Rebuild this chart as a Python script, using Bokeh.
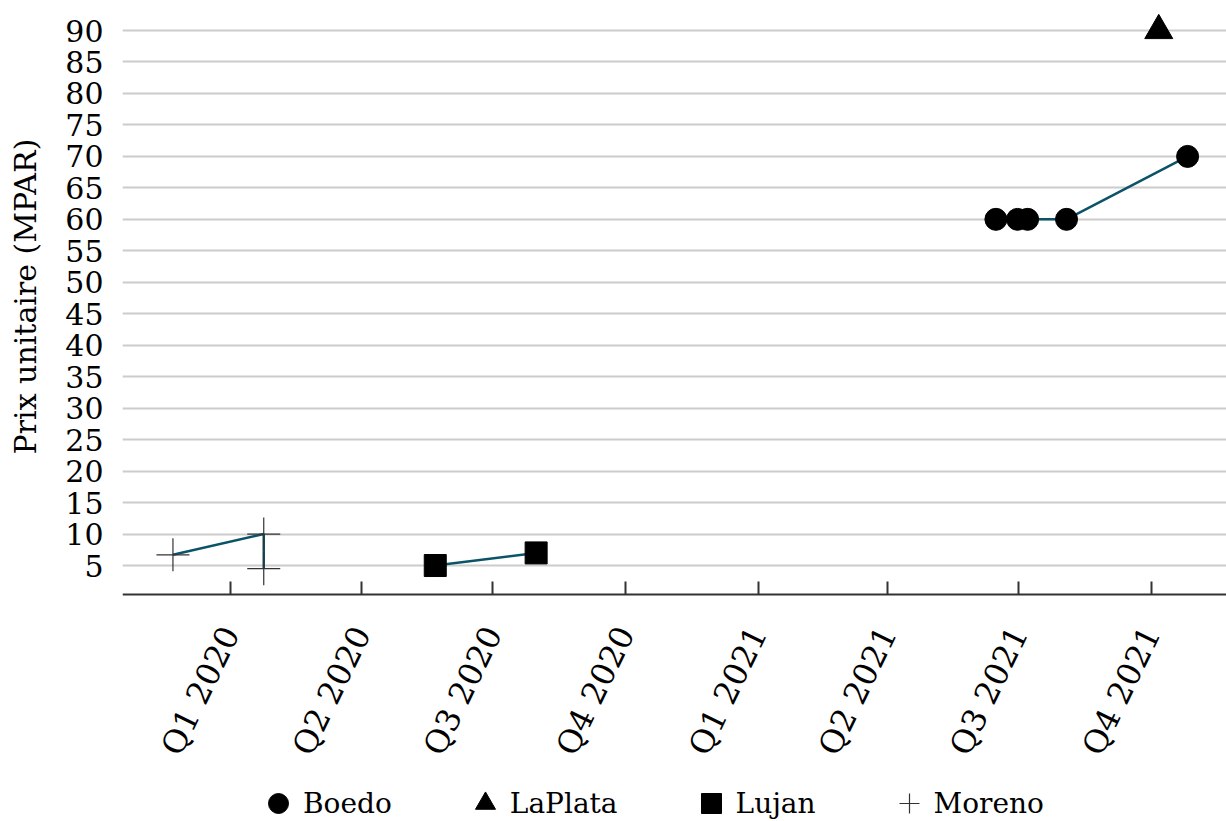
import math
from datetime import datetime, timezone
from bokeh.plotting import figure
from bokeh.models import (ColumnDataSource, FixedTicker, CustomJSTickFormatter,
                          Legend, LegendItem, Range1d)
from bokeh.embed import file_html
from bokeh.resources import INLINE

# ---- data ----
boedo_dates = ["2021-06-15", "2021-06-30", "2021-07-07", "2021-08-03", "2021-10-26"]
boedo_values = [60, 60, 60, 60, 70]
laplata_dates = ["2021-10-06"]
laplata_values = [90]
lujan_dates = ["2020-05-22", "2020-07-31"]
lujan_values = [5, 7]
moreno_dates = ["2019-11-22", "2020-01-24", "2020-01-24"]
moreno_values = [6.7, 10, 4.5]

quarter_starts = ["2020-01-01", "2020-04-01", "2020-07-01", "2020-10-01",
                  "2021-01-01", "2021-04-01", "2021-07-01", "2021-10-01"]
quarter_labels = ["Q1 2020", "Q2 2020", "Q3 2020", "Q4 2020",
                  "Q1 2021", "Q2 2021", "Q3 2021", "Q4 2021"]
y_ticks = list(range(5, 91, 5))
y_title = "Prix unitaire (MPAR)"


def ms(s):
    return datetime.strptime(s, "%Y-%m-%d").replace(tzinfo=timezone.utc).timestamp() * 1000.0


FONT = "DejaVu Serif"
LINE_COLOR = "#0b5468"
AXIS_Y = 0.39  # value where the x axis line sits

# the frame spans the full height; the x axis is pinned at AXIS_Y inside it
p = figure(frame_width=1104, frame_height=821, x_axis_type="datetime",
           output_backend="svg", toolbar_location=None,
           min_border_left=122, min_border_right=0, min_border_top=0, min_border_bottom=0)
p.x_range = Range1d(ms("2019-10-18"), ms("2021-11-22"))
p.y_range = Range1d(-35.67, 94.77)
p.outline_line_color = None
p.background_fill_color = "white"

# grid
p.xgrid.grid_line_color = None
p.ygrid.grid_line_color = "#cccccc"
p.ygrid.grid_line_width = 2
p.ygrid.ticker = FixedTicker(ticks=y_ticks)

# y axis
p.yaxis.ticker = FixedTicker(ticks=y_ticks)
p.yaxis.bounds = (AXIS_Y, 93.2)
p.yaxis.axis_line_color = None
p.yaxis.major_tick_line_color = None
p.yaxis.minor_tick_line_color = None
p.yaxis.major_label_standoff = 13
p.yaxis.major_label_text_font = FONT
p.yaxis.major_label_text_font_size = "30px"
p.yaxis.major_label_text_color = "black"
# leading no-break spaces lift the visible title to the middle of the plotted band
p.yaxis.axis_label = "\u00a0" * 24 + y_title
p.yaxis.axis_label_text_font = FONT
p.yaxis.axis_label_text_font_style = "normal"
p.yaxis.axis_label_text_font_size = "30px"
p.yaxis.axis_label_text_color = "black"
p.yaxis.axis_label_standoff = 19

# x axis
qs = [ms(s) for s in quarter_starts]
p.xaxis.fixed_location = AXIS_Y
p.xaxis.ticker = FixedTicker(ticks=qs, minor_ticks=[])
p.xaxis.formatter = CustomJSTickFormatter(args=dict(starts=qs, labels=quarter_labels), code="""
    for (let i = 0; i < starts.length; i++) {
        if (Math.abs(starts[i] - tick) < 1000) return labels[i];
    }
    return "";
""")
p.xaxis.axis_line_color = "#333333"
p.xaxis.axis_line_width = 2
p.xaxis.major_tick_line_color = "#333333"
p.xaxis.major_tick_line_width = 2
p.xaxis.major_tick_in = 13
p.xaxis.major_tick_out = 0
p.xaxis.minor_tick_line_color = None
p.xaxis.major_label_orientation = 1.12
p.xaxis.major_label_standoff = 34
p.xaxis.major_label_text_font = FONT
p.xaxis.major_label_text_font_size = "32px"
p.xaxis.major_label_text_color = "black"

# series
def src(dates, vals):
    return ColumnDataSource(dict(x=[ms(d) for d in dates], y=vals))

s_b = src(boedo_dates, boedo_values)
s_lp = src(laplata_dates, laplata_values)
s_lu = src(lujan_dates, lujan_values)
s_m = src(moreno_dates, moreno_values)

for s in (s_b, s_lp, s_lu, s_m):
    p.line("x", "y", source=s, line_color=LINE_COLOR, line_width=2.5)

r_b = p.scatter("x", "y", source=s_b, marker="circle", size=22, fill_color="black", line_color="black")
r_lp = p.scatter("x", "y", source=s_lp, marker="triangle", size=28, fill_color="black", line_color="black")
r_lu = p.scatter("x", "y", source=s_lu, marker="square", size=22, fill_color="black", line_color="black")
r_m = p.scatter("x", "y", source=s_m, marker="cross", size=33, line_color="#333333", line_width=1.2)

legend = Legend(items=[LegendItem(label="Boedo", renderers=[r_b]),
                       LegendItem(label="LaPlata", renderers=[r_lp]),
                       LegendItem(label="Lujan", renderers=[r_lu]),
                       LegendItem(label="Moreno", renderers=[r_m])],
                orientation="horizontal", location=(131, -7),
                border_line_color=None, background_fill_alpha=0,
                label_text_font=FONT, label_text_font_size="28px",
                label_text_color="black", glyph_width=50, glyph_height=50,
                label_standoff=0, spacing=68, padding=0, margin=0)
p.add_layout(legend, "center")

open("out.html", "w").write(file_html(p, INLINE))
